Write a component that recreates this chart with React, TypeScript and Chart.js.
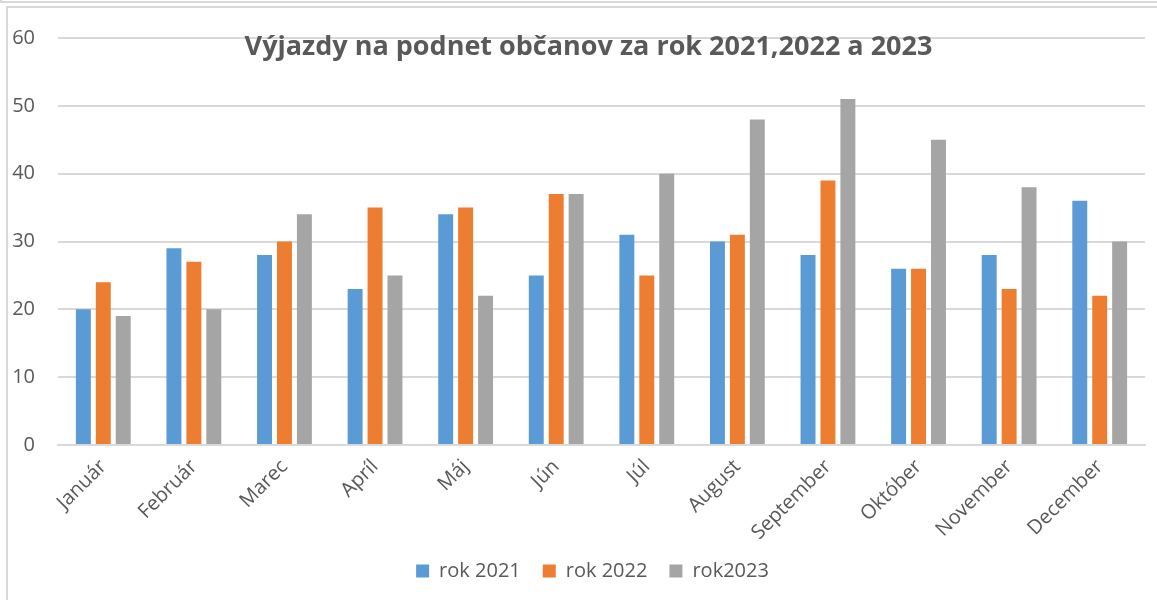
import React, { useEffect, useRef } from "react";
import { Chart, registerables } from "chart.js";

Chart.register(...registerables);

const TITLE = "Výjazdy na podnet občanov za rok 2021,2022 a 2023";
const months = ["Január", "Február", "Marec", "Apríl", "Máj", "Jún", "Júl", "August", "September", "Október", "November", "December"];
const seriesNames = ["rok 2021", "rok 2022", "rok2023"];
const rok2021 = [20, 29, 28, 23, 34, 25, 31, 30, 28, 26, 28, 36];
const rok2022 = [24, 27, 30, 35, 35, 37, 25, 31, 39, 26, 23, 22];
const rok2023 = [19, 20, 34, 25, 22, 37, 40, 48, 51, 45, 38, 30];
const colors = ["#5B9BD5", "#ED7D31", "#A5A5A5"];

const FONT = '"Open Sans", "Liberation Sans", sans-serif';
const TEXT = "#595959";
const GRID = "#D9D9D9";

const titlePlugin = {
  id: "overlayTitle",
  afterDraw(chart: any) {
    const ctx = chart.ctx;
    ctx.save();
    ctx.font = `bold 27px ${FONT}`;
    ctx.fillStyle = TEXT;
    ctx.textAlign = "center";
    ctx.textBaseline = "middle";
    ctx.fillText(TITLE, chart.width / 2 + 10, 47);
    ctx.restore();
  },
};

const legendShift = {
  id: "legendShift",
  afterLayout(chart: any) {
    const lg = chart.legend;
    if (lg) {
      lg.left += 20;
      lg.right += 20;
    }
  },
};

export default function App() {
  const ref = useRef<HTMLCanvasElement>(null);
  useEffect(() => {
    let chart: Chart | null = null;
    let cancelled = false;
    const make = () => {
      if (cancelled || !ref.current) return;
      chart = new Chart(ref.current, {
        type: "bar",
        data: {
          labels: months,
          datasets: [rok2021, rok2022, rok2023].map((d, i) => ({
            label: seriesNames[i],
            data: d,
            backgroundColor: colors[i],
            borderWidth: 0,
            categoryPercentage: 0.66,
            barPercentage: 0.75,
          })),
        },
        options: {
          responsive: false,
          animation: false,
          maintainAspectRatio: false,
          layout: { padding: { top: 38, right: 12, bottom: 9, left: 0 } },
          plugins: {
            title: { display: false },
            tooltip: { enabled: false },
            legend: {
              position: "bottom",
              labels: {
                boxWidth: 13,
                boxHeight: 13,
                padding: 22,
                color: TEXT,
                font: { family: FONT, size: 20 },
              },
            },
          },
          scales: {
            x: {
              grid: { display: false, drawTicks: false },
              border: { display: true, color: GRID, width: 2 },
              ticks: {
                color: TEXT,
                font: { family: FONT, size: 20 },
                maxRotation: 45,
                minRotation: 45,
                padding: 10,
                autoSkip: false,
              },
              afterFit: (s: any) => {
                s.height = 94;
              },
            },
            y: {
              min: 0,
              max: 60,
              grid: { color: GRID, lineWidth: 2, drawTicks: false },
              border: { display: false },
              ticks: {
                stepSize: 10,
                color: TEXT,
                font: { family: FONT, size: 20 },
                padding: 23,
              },
              afterFit: (s: any) => {
                s.width = 58;
              },
            },
          },
        },
        plugins: [titlePlugin, legendShift],
      });
    };
    const p = (document as any).fonts
      ? Promise.all([
          (document as any).fonts.load(`bold 27px "Open Sans"`),
          (document as any).fonts.load(`20px "Open Sans"`),
        ]).catch(() => null)
      : Promise.resolve(null);
    p.then(make);
    return () => {
      cancelled = true;
      if (chart) chart.destroy();
    };
  }, []);

  return (
    <div style={{ position: "absolute", left: 0, top: 0, width: 1157, height: 600, background: "#fff", overflow: "hidden" }}>
      <div style={{ position: "absolute", left: 0, top: 1, width: 1157, height: 2, background: GRID }} />
      <div style={{ position: "absolute", left: 0, top: 0, width: 2, height: 3, background: GRID }} />
      <div
        style={{
          position: "absolute",
          left: 6,
          top: 6,
          width: 1157,
          height: 600,
          borderLeft: `2px solid ${GRID}`,
          borderTop: `2px solid ${GRID}`,
        }}
      />
      <canvas ref={ref} width={1157} height={600} style={{ position: "absolute", left: 0, top: 0, width: 1157, height: 600 }} />
    </div>
  );
}
